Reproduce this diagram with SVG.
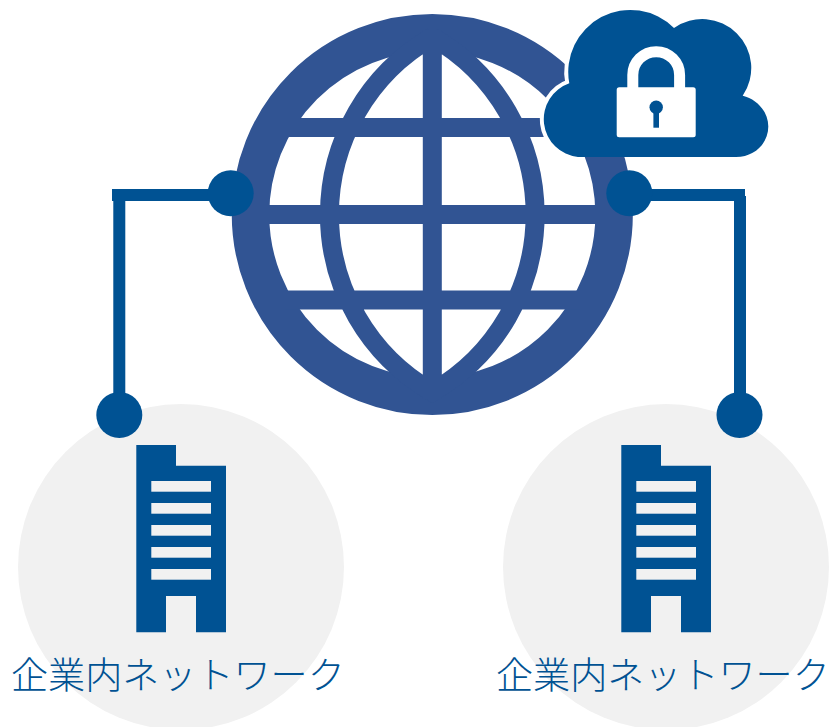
<svg xmlns="http://www.w3.org/2000/svg" width="831" height="727" viewBox="0 0 831 727">
<style>
.bg{fill:#f1f1f1}
.ink{fill:#005293}
.win{fill:#f1f1f1}
.globe{fill:none;stroke:#315493}
.wire{fill:none;stroke:#005293;stroke-width:12}
.lbl{font-family:"Noto Sans CJK JP","Noto Sans",sans-serif;font-weight:300;font-size:37.1px;fill:#005293}
</style>
<defs>
<g id="bld">
<path class="ink" d="M136.3 445H176V465.7H226V632.3H196V596H166V632.3H136.3Z"/>
<rect class="win" x="151.3" y="481" width="59.7" height="10.7"/>
<rect class="win" x="151.3" y="503" width="59.7" height="10.7"/>
<rect class="win" x="151.3" y="525" width="59.7" height="10.7"/>
<rect class="win" x="151.3" y="547" width="59.7" height="10.7"/>
<rect class="win" x="151.3" y="569" width="59.7" height="10.7"/>
</g>
</defs>
<g id="network-left">
<circle class="bg" cx="181" cy="567" r="163"/>
<use href="#bld"/>
<text class="lbl" x="11" y="689">企業内ネットワーク</text>
</g>
<g id="network-right">
<circle class="bg" cx="666" cy="567" r="163"/>
<use href="#bld" x="485"/>
<text class="lbl" x="496" y="689">企業内ネットワーク</text>
</g>
<g id="globe">
<circle class="globe" cx="432.3" cy="214.5" r="181.8" stroke-width="37.5"/>
<path class="globe" stroke-width="19" d="M432.3 30V399M432.3 37A204.6 204.6 0 0 0 432.3 392A204.6 204.6 0 0 0 432.3 37M250 214.5H615M285 127.5H580M285 300H580"/>
</g>
<g id="connectors">
<path class="wire" d="M230 195H112M119.3 195V415"/>
<path class="wire" d="M629 195H745M740 196V415"/>
</g>
<g id="dots">
<circle class="ink" cx="230.7" cy="193.3" r="23"/>
<circle class="ink" cx="629.3" cy="193.3" r="23"/>
<circle class="ink" cx="119.3" cy="415" r="23"/>
<circle class="ink" cx="739.5" cy="415" r="23"/>
</g>
<g id="cloud-lock">
<path fill="none" stroke="#fff" stroke-width="8" d="M578 157A38 38 0 0 1 569.3 83.3A62 62 0 0 1 674 28"/>
<path class="ink" d="M578 157A38 38 0 0 1 569.3 83.3A62 62 0 0 1 674 28A49 49 0 0 1 742.7 95.7C757 99 768.3 112 768.3 126.5C768.3 143 755 157 736 157Z"/>
<rect x="616.7" y="87.3" width="79" height="50" rx="2.5" fill="#fff"/>
<path d="M632.8 88V75A23.4 23.4 0 0 1 679.6 75V88" fill="none" stroke="#fff" stroke-width="11"/>
<circle class="ink" cx="656.2" cy="107.3" r="6.7"/>
<rect class="ink" x="653.4" y="110" width="5.6" height="17.7"/>
</g>
</svg>
